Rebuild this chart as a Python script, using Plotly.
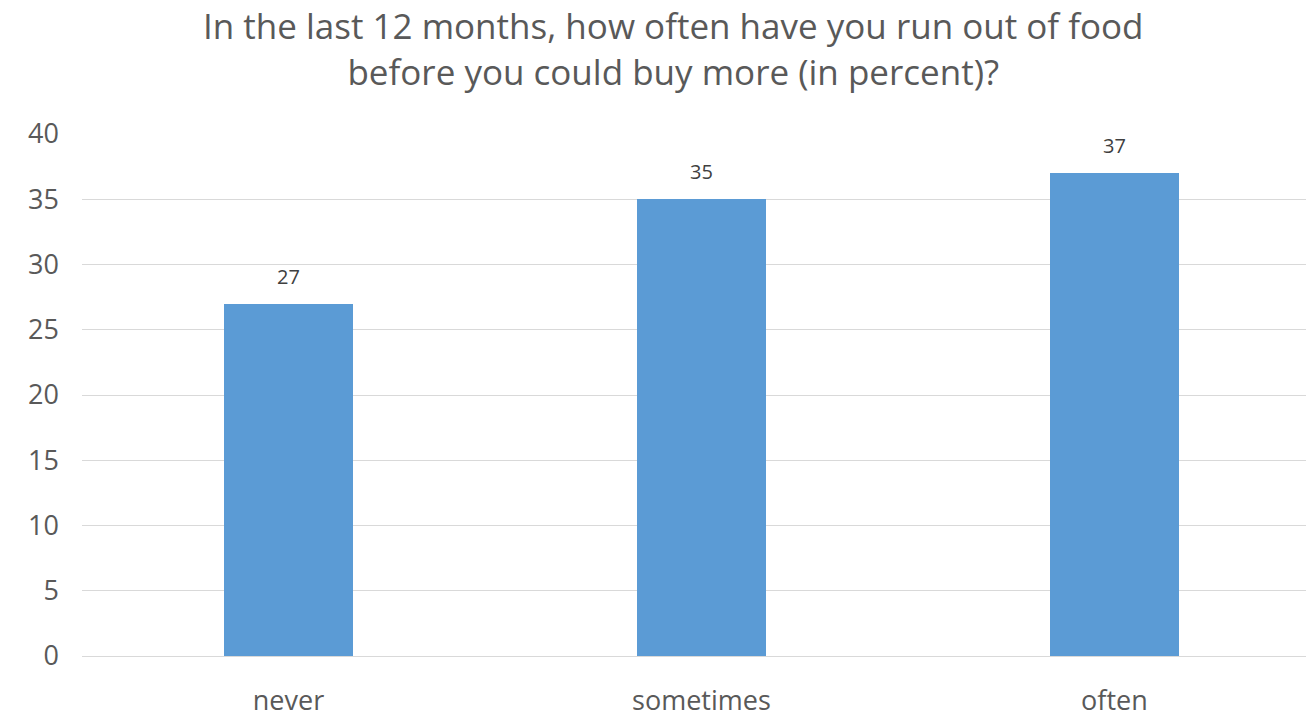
import plotly.graph_objects as go

categories = ["never", "sometimes", "often"]
values = [27, 35, 37]
y_ticks = [0, 5, 10, 15, 20, 25, 30, 35, 40]

FONT = "Open Sans"

fig = go.Figure(go.Bar(
    x=categories, y=values,
    marker=dict(color="#5B9BD5", line=dict(width=0)),
    width=0.312,
    cliponaxis=False,
))

annotations = [dict(
    text="In the last 12 months, how often have you run out of food<br>before you could buy more (in percent)?",
    xref="paper", yref="paper", x=0.483, y=1, yshift=134,
    xanchor="center", yanchor="top", showarrow=False,
    font=dict(family=FONT, size=35, color="#595959"),
)]
for c, v in zip(categories, values):
    annotations.append(dict(
        x=c, y=v, xref="x", yref="y", text=str(v), showarrow=False,
        yanchor="bottom", yshift=12,
        font=dict(family=FONT, size=20, color="#404040"),
    ))

fig.update_layout(
    width=1306, height=717,
    margin=dict(l=82, r=0, t=134, b=61),
    paper_bgcolor="white", plot_bgcolor="white",
    showlegend=False,
    font=dict(family=FONT, color="#595959"),
    annotations=annotations,
    xaxis=dict(
        range=[-0.5, 2.464], showgrid=False, showline=False, zeroline=False,
        ticks="", tickfont=dict(family=FONT, size=27, color="#595959"),
        ticklabelstandoff=26,
    ),
    yaxis=dict(
        range=[0, 40], tickvals=y_ticks, showgrid=True, gridcolor="#D9D9D9",
        gridwidth=1.3, zeroline=True, zerolinecolor="#D9D9D9", zerolinewidth=1.3,
        showline=False, ticks="",
        tickfont=dict(family=FONT, size=27, color="#595959"),
        ticklabelstandoff=22,
    ),
    bargap=0,
)

fig.write_html("out.html")
